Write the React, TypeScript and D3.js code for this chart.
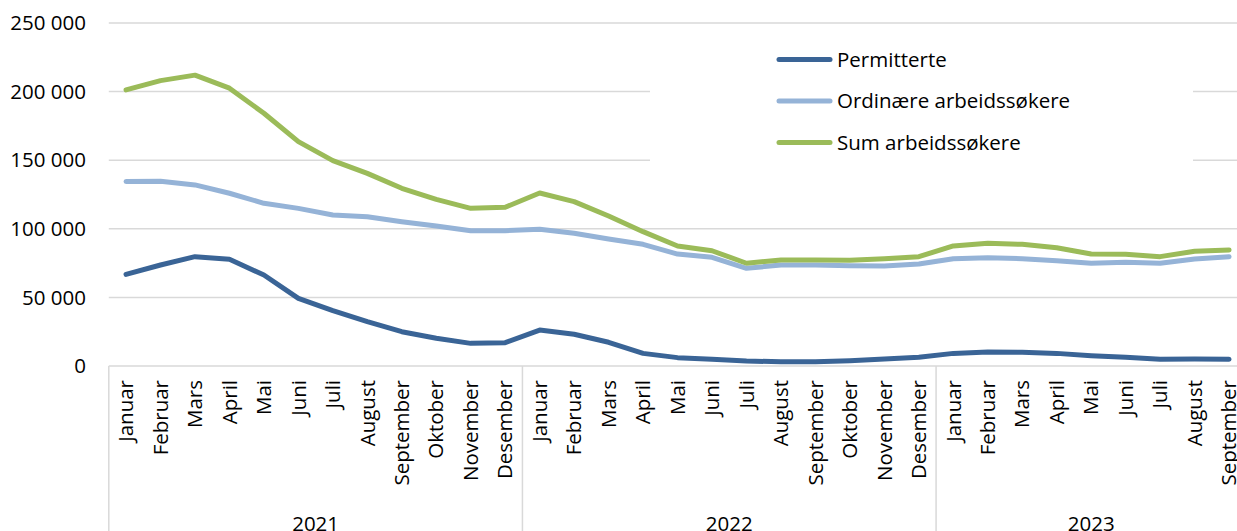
import React from "react";
import * as d3 from "d3";

const months = [
  "Januar", "Februar", "Mars", "April", "Mai", "Juni", "Juli", "August",
  "September", "Oktober", "November", "Desember",
];
const years = ["2021", "2022", "2023"];
const monthsPerYear = [12, 12, 9];

const permitterte = [
  66800, 73600, 79700, 77800, 66300, 49300, 40300, 32300, 25000, 20200, 16500, 17000,
  26200, 23100, 17300, 9200, 6100, 4900, 3600, 3100, 3100, 3900, 5100, 6300,
  9200, 10200, 10000, 9200, 7500, 6300, 4900, 5100, 4900,
];
const ordinaere = [
  134400, 134600, 132000, 125900, 118600, 114900, 110100, 108800, 105200, 102000, 98600, 98600,
  99700, 96700, 92600, 88700, 81600, 79200, 71200, 73600, 73600, 73100, 72900, 74300,
  78200, 78900, 78200, 76700, 74900, 75600, 74900, 78000, 79700,
];
const sumArbeidssokere = [
  201200, 208000, 212000, 202500, 184200, 163500, 149700, 140400, 129500, 121500, 114900, 115700,
  126100, 119800, 109300, 97900, 87500, 84000, 74900, 77300, 77300, 77100, 78200, 79700,
  87500, 89400, 88700, 86200, 81600, 81400, 79700, 83600, 84600,
];
const yTicks = [0, 50000, 100000, 150000, 200000, 250000];

const seriesNames = ["Permitterte", "Ordinære arbeidssøkere", "Sum arbeidssøkere"];
const seriesColors = ["#3A6496", "#95B3D7", "#9BBB59"];
const seriesData = [permitterte, ordinaere, sumArbeidssokere];

const W = 1237;
const H = 531;
const FONT = "'Open Sans', sans-serif";
const FS = 20.5;

export default function App() {
  const labels: { month: string; yearIdx: number }[] = [];
  years.forEach((_, yi) => {
    for (let m = 0; m < monthsPerYear[yi]; m++) labels.push({ month: months[m], yearIdx: yi });
  });
  const n = labels.length;
  const step = 34.47;
  const left = 108.8;
  const x = d3
    .scaleBand<number>()
    .domain(d3.range(n))
    .range([left, left + n * step])
    .paddingInner(0)
    .paddingOuter(0);
  const cx = (i: number) => (x(i) as number) + x.bandwidth() / 2;
  const y = d3.scaleLinear().domain([0, 250000]).range([366, 23]);

  const line = d3
    .line<number>()
    .x((_, i) => cx(i))
    .y((v) => y(v));

  const boundaries: number[] = [];
  let acc = 0;
  boundaries.push(x(0) as number);
  monthsPerYear.forEach((c) => {
    acc += c;
    boundaries.push(acc < n ? (x(acc) as number) : left + n * step);
  });

  const fmt = (v: number) => d3.format(",")(v).replace(/,/g, " ");

  return (
    <svg
      width={W}
      height={H}
      style={{ position: "absolute", left: 0, top: 0, background: "#fff" }}
      fontFamily={FONT}
    >
      <rect x={0} y={0} width={W} height={H} fill="#fff" />
      {yTicks.map((t) => (
        <line key={t} x1={left} x2={W} y1={y(t)} y2={y(t)} stroke="#d9d9d9" strokeWidth={1.5} />
      ))}
      {yTicks.map((t) => (
        <text
          key={"l" + t}
          x={86}
          y={y(t)}
          dy="0.35em"
          textAnchor="end"
          fontSize={FS}
          fill="#000"
        >
          {fmt(t)}
        </text>
      ))}
      {boundaries.slice(0, 3).map((b, i) => (
        <line key={"b" + i} x1={b} x2={b} y1={366} y2={H} stroke="#d9d9d9" strokeWidth={1.5} />
      ))}
      {labels.map((l, i) => (
        <text
          key={"m" + i}
          transform={`translate(${cx(i)},380) rotate(-90)`}
          dy="0.35em"
          textAnchor="end"
          fontSize={FS}
          fill="#000"
        >
          {l.month}
        </text>
      ))}
      {years.map((yr, i) => (
        <text
          key={yr}
          x={(boundaries[i] + boundaries[i + 1]) / 2}
          y={531}
          textAnchor="middle"
          fontSize={FS}
          fill="#000"
        >
          {yr}
        </text>
      ))}
      <rect x={650} y={36} width={543} height={144} fill="#fff" />
      {seriesData.map((d, si) => (
        <path
          key={"s" + si}
          d={line(d) || ""}
          fill="none"
          stroke={seriesColors[si]}
          strokeWidth={5}
          strokeLinejoin="round"
          strokeLinecap="round"
        />
      ))}
      {seriesNames.map((name, i) => {
        const ly = 59.5 + i * 41.5;
        return (
          <g key={"lg" + i}>
            <line x1={779} x2={830} y1={ly} y2={ly} stroke={seriesColors[i]} strokeWidth={5} strokeLinecap="round" />
            <text x={837} y={ly} dy="0.35em" fontSize={FS} fill="#000">
              {name}
            </text>
          </g>
        );
      })}
    </svg>
  );
}
